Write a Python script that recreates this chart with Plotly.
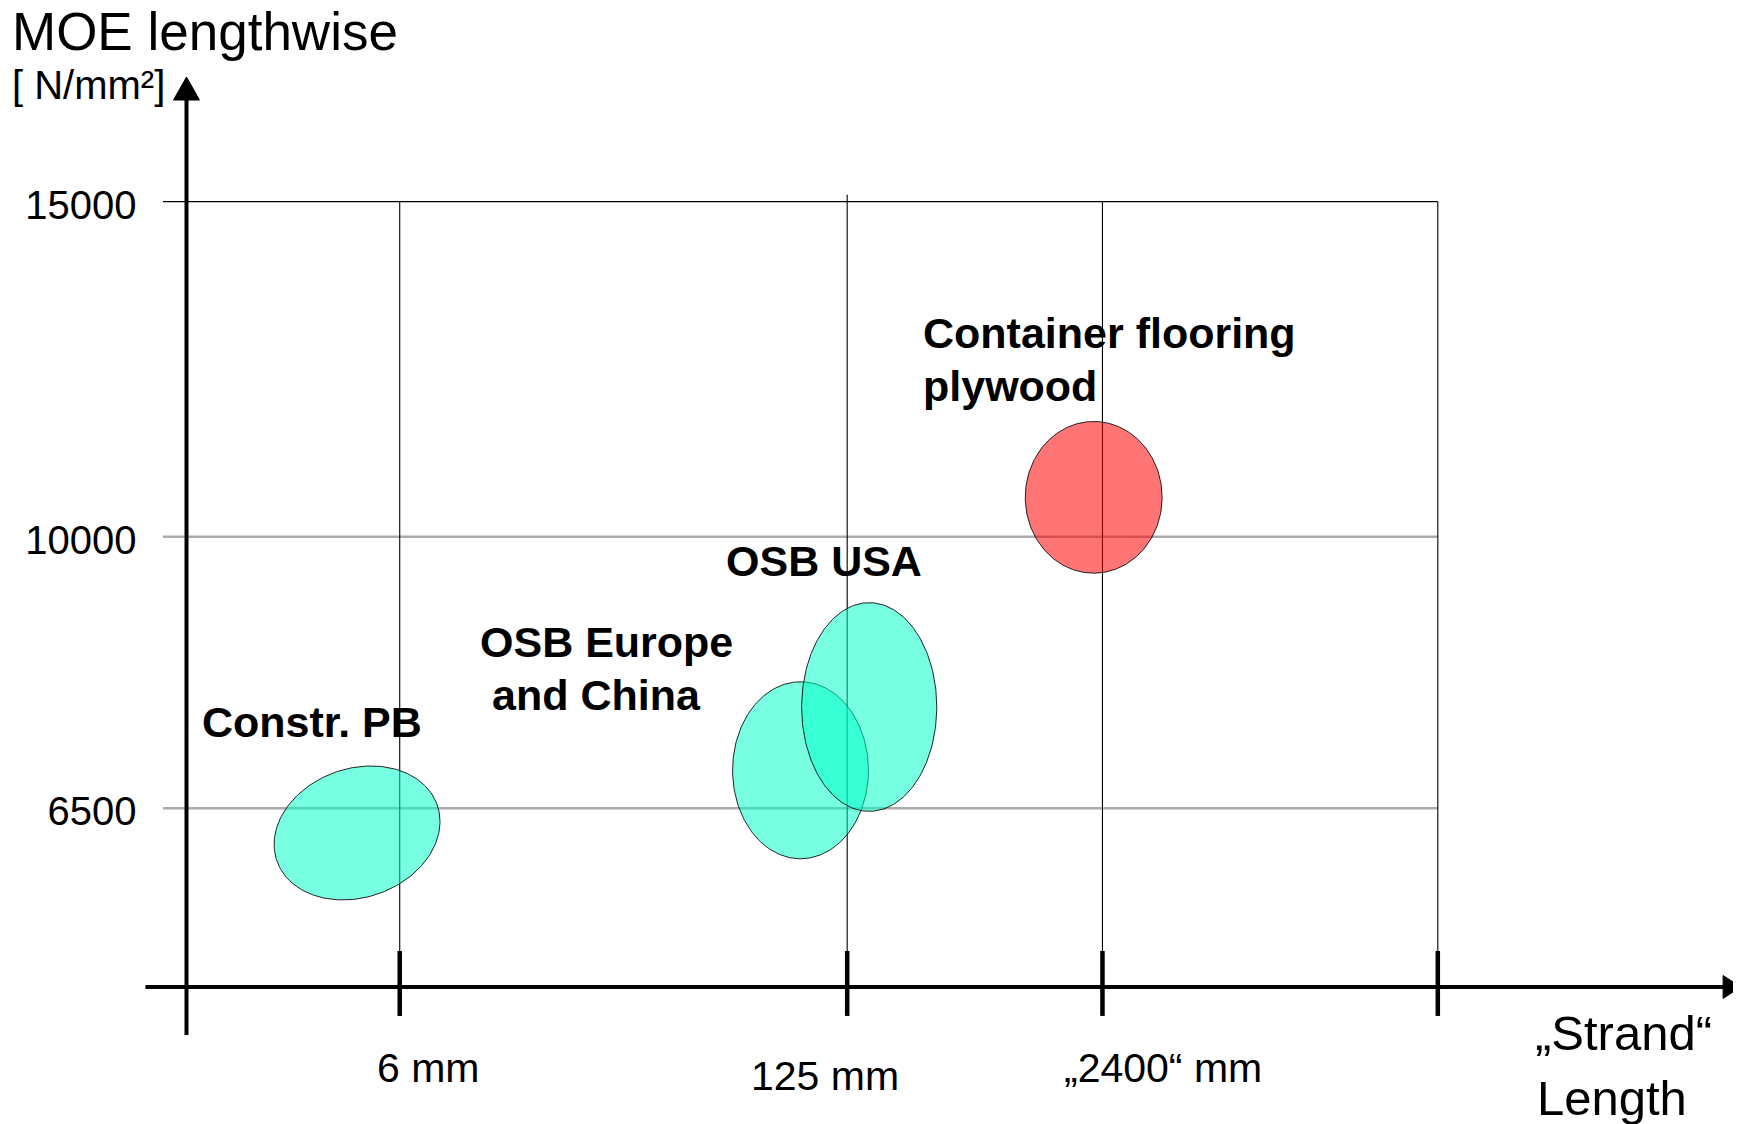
import numpy as np
import plotly.graph_objects as go

# ---------------- data ----------------
X_TICK_LABELS = ["6 mm", "125 mm", "„2400“ mm", ""]
X_TICK_POS = [17.04, 52.80, 73.20, 100.0]          # schematic strand-length axis (0 = origin)
Y_TICK_VALUES = [6500, 10000, 15000]               # MOE lengthwise, N/mm²
Y_TICK_LABELS = ["6500", "10000", "15000"]

PRODUCTS = ["Constr. PB", "OSB Europe and China", "OSB USA", "Container flooring plywood"]
STRAND_CENTER = [13.63, 49.07, 54.56, 72.50]       # position on strand-length axis
STRAND_HALF = [6.63, 5.43, 5.40, 5.47]             # half spread on strand-length axis
MOE_MIN = [5320, 5850, 6460, 9530]
MOE_MAX = [7045, 8130, 9150, 11720]
TILT = [0.17, 0.0, 0.0, 0.0]
FILLS = ["rgba(0,255,200,0.53)", "rgba(0,255,200,0.53)",
         "rgba(0,255,200,0.53)", "rgba(255,0,0,0.54)"]

# schematic (non-linear) MOE scale of the original drawing
MOE_KNOTS = [4200, 6500, 10000, 15000]
AXIS_KNOTS = [0.0, 22.76, 57.34, 100.0]


def moe_to_axis(v):
    v = np.asarray(v, dtype=float)
    lo = AXIS_KNOTS[0] + (v - MOE_KNOTS[0]) * (AXIS_KNOTS[1] - AXIS_KNOTS[0]) / (MOE_KNOTS[1] - MOE_KNOTS[0])
    return np.where(v < MOE_KNOTS[0], lo, np.interp(v, MOE_KNOTS, AXIS_KNOTS))


FONT = "Liberation Sans, Arial, sans-serif"
W, H = 1733, 1116          # page body has an 8 px margin
X_RANGE = [-14.265, 124.23]
Y_RANGE = [-17.45, 124.67]


def px(x):   # page pixel -> paper x (for free-floating titles)
    return (x - 8) / W


def py(y):
    return 1 - (y - 8) / H


fig = go.Figure()

# ---------------- ellipses ----------------
t = np.linspace(0, 2 * np.pi, 241)
for name, cx, hx, lo, hi, rho, fill in zip(PRODUCTS, STRAND_CENTER, STRAND_HALF,
                                           MOE_MIN, MOE_MAX, TILT, FILLS):
    ylo, yhi = float(moe_to_axis(lo)), float(moe_to_axis(hi))
    cy, hy = (ylo + yhi) / 2, (yhi - ylo) / 2
    xs = cx + hx * np.cos(t)
    ys = cy + hy * (rho * np.cos(t) + np.sqrt(1 - rho ** 2) * np.sin(t))
    fig.add_trace(go.Scatter(x=xs, y=ys, mode="lines", fill="toself",
                             fillcolor=fill, line=dict(color="rgba(0,0,0,0.85)", width=1),
                             name=name, hoverinfo="name"))

shapes = []
# horizontal grid lines
for v in Y_TICK_VALUES:
    yy = float(moe_to_axis(v))
    top = v == max(Y_TICK_VALUES)
    shapes.append(dict(type="line", xref="x", yref="y", x0=-1.88, x1=X_TICK_POS[-1],
                       y0=yy, y1=yy, layer="below",
                       line=dict(color="black" if top else "#ababab", width=1.3 if top else 2.5)))
# vertical grid lines
ytop = float(moe_to_axis(max(Y_TICK_VALUES)))
for i, xp in enumerate(X_TICK_POS):
    shapes.append(dict(type="line", xref="x", yref="y", x0=xp, x1=xp, y0=0,
                       y1=ytop + (0.9 if i == 1 else 0), layer="below",
                       line=dict(color="black", width=1.1)))
# thick tick marks on the x axis
for xp in X_TICK_POS:
    shapes.append(dict(type="line", xref="x", yref="y", x0=xp, x1=xp, y0=-3.69, y1=4.58,
                       line=dict(color="black", width=4.5)))
# axes with arrows
shapes.append(dict(type="line", xref="x", yref="y", x0=0, x1=0, y0=-6.11, y1=113.5,
                   line=dict(color="black", width=4)))
shapes.append(dict(type="path", xref="x", yref="y",
                   path="M -1.04 112.95 L 1.04 112.95 L 0 115.88 Z",
                   fillcolor="black", line=dict(color="black", width=1)))
shapes.append(dict(type="line", xref="x", yref="y", x0=-3.28, x1=123.5, y0=0, y1=0,
                   line=dict(color="black", width=4)))
shapes.append(dict(type="path", xref="x", yref="y",
                   path="M 122.8 -1.46 L 122.8 1.46 L 124.2 0 Z",
                   fillcolor="black", line=dict(color="black", width=1)))

annotations = []


def ann(text, x, y, size, bold=False, xanchor="center", xref="x", yref="y"):
    annotations.append(dict(text=text, x=x, y=y, xref=xref, yref=yref, showarrow=False,
                            xanchor=xanchor, yanchor="middle",
                            font=dict(family=FONT, size=size, color="black",
                                      weight="bold" if bold else "normal")))


# product labels
ann("Constr. PB", 1.05, 33.77, 43, True, "left")
ann("OSB Europe", 33.59, 43.96, 43, True)
ann("and China", 32.78, 37.12, 43, True)
ann("OSB USA", 50.97, 54.22, 43, True)
ann("Container flooring", 58.67, 83.3, 43, True, "left")
ann("plywood", 58.67, 76.5, 43, True, "left")

# x tick labels (offset from tick marks as in the drawing)
X_LABEL_SHIFT = [2.26, -1.77, 4.84, 0]
X_LABEL_Y = [-10.31, -11.33, -10.31, -10.31]
for lab, xp, dx, yy in zip(X_TICK_LABELS, X_TICK_POS, X_LABEL_SHIFT, X_LABEL_Y):
    if lab:
        ann(lab, xp + dx, yy, 41)

# axis titles
ann("MOE lengthwise", px(10), py(31.5), 53, False, "left", "paper", "paper")
ann("[ N/mm²]", px(10), py(85.5), 40, False, "left", "paper", "paper")
ann("„Strand“", px(1533), py(1033), 49, False, "left", "paper", "paper")
ann("Length", px(1535), py(1097.8), 49, False, "left", "paper", "paper")

fig.update_layout(
    width=W, height=H,
    margin=dict(l=0, r=0, t=0, b=0),
    paper_bgcolor="white", plot_bgcolor="white",
    showlegend=False,
    shapes=shapes, annotations=annotations,
    xaxis=dict(range=X_RANGE, visible=False, fixedrange=True),
    yaxis=dict(range=Y_RANGE, anchor="free", position=178.5 / W,
               tickvals=[float(moe_to_axis(v)) for v in Y_TICK_VALUES],
               ticktext=Y_TICK_LABELS, ticks="", showgrid=False, zeroline=False,
               showline=False, ticklabelstandoff=50, ticklabelshift=3,
               tickfont=dict(family=FONT, size=40, color="black"), fixedrange=True),
)

fig.write_html("out.html")
